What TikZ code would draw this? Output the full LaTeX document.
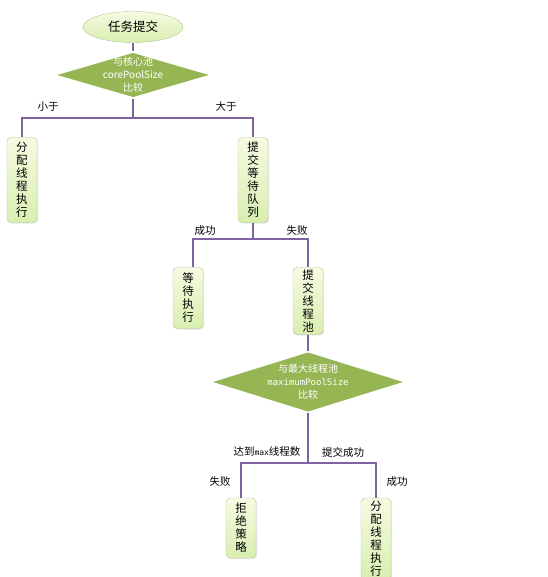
\documentclass[tikz,border=0pt]{standalone}
\usepackage{fontspec}
\setmainfont{Noto Sans CJK SC}
\newfontfamily\monofont{DejaVu Sans Mono}
\usetikzlibrary{shapes.geometric,shadows}
\definecolor{paleleaf}{HTML}{F6FBE2}
\definecolor{leaf}{HTML}{D9EEB0}
\definecolor{leafline}{HTML}{B2C794}
\definecolor{olive}{HTML}{96B654}
\definecolor{flowline}{HTML}{7F63A1}

\begin{document}
\begin{tikzpicture}[x=1pt,y=-1pt,
  task/.style={ellipse, draw=leafline, top color=paleleaf, bottom color=leaf,
    minimum width=100pt, minimum height=31pt, font=\fontsize{12.5}{14}\selectfont},
  cmp/.style={diamond, draw=white, line width=1.2pt, fill=olive,
    minimum width=157pt, minimum height=46pt, inner sep=0pt},
  cmptext/.style={text=white, align=center, font=\fontsize{10}{13}\selectfont},
  act/.style={rectangle, rounded corners=4pt, draw=leafline, top color=paleleaf,
    bottom color=leaf, minimum width=30pt, inner sep=0pt, align=center,
    font=\fontsize{11.5}{13}\selectfont,
    drop shadow={shadow xshift=1pt, shadow yshift=-1pt, opacity=0.2}},
  tag/.style={font=\fontsize{10.5}{12}\selectfont},
  flow/.style={draw=flowline, line width=2.5pt}]

\useasboundingbox (0,0) rectangle (547,577);

% first comparison
\node[task] (submit) at (133,27) {任务提交};
\node[cmp] (core) at (133,75) {};
\node[cmptext] (coretext) at (core) {与核心池\\corePoolSize\\比较};
\coordinate (split1) at (133,118);

\node[act, minimum height=85pt] (run1) at (22,180) {分\\配\\线\\程\\执\\行};
\node[act, minimum height=85pt] (queue) at (253,180) {提\\交\\等\\待\\队\\列};

% queue result
\coordinate (split2) at (253,239);
\node[act, minimum height=61pt] (wait) at (188,298) {等\\待\\执\\行};
\node[act, minimum height=67pt] (pool) at (308,301) {提\\交\\线\\程\\池};

% second comparison
\node[cmp, minimum width=195pt, minimum height=61pt] (maxcmp) at (308,382) {};
\node[cmptext] (maxtext) at (maxcmp)
  {与最大线程池\\{\monofont\fontsize{9}{13}\selectfont maximumPoolSize}\\比较};
\coordinate (split3) at (308,463);

\node[act, minimum height=60pt] (reject) at (241,528) {拒\\绝\\策\\略};
\node[act, minimum height=82pt] (run2) at (376,539) {分\\配\\线\\程\\执\\行};

% connectors
\draw[flow] (submit.south) -- (core.north);
\draw[flow] (core.south) -- (split1);
\draw[flow] (run1.north) |- (split1) -| (queue.north);
\draw[flow] (queue.south) -- (split2);
\draw[flow] ([xshift=5pt]wait.north) |- (split2) -| (pool.north);
\draw[flow] (pool.south) -- (maxcmp.north);
\draw[flow] (maxcmp.south) -- (split3);
\draw[flow] (reject.north) |- (split3) -| (run2.north);

% labels
\node[tag] (less) at (48,107) {小于};
\node[tag] (more) at (226,107) {大于};
\node[tag] (okqueue) at (205,231) {成功};
\node[tag] (failqueue) at (297,231) {失败};
\node[tag] (maxed) at (267,452) {达到{\monofont\fontsize{8}{10}\selectfont max}线程数};
\node[tag] (okpool) at (343,452) {提交成功};
\node[tag] (failpool) at (220,482) {失败};
\node[tag] (okrun) at (397,482) {成功};

\end{tikzpicture}
\end{document}
